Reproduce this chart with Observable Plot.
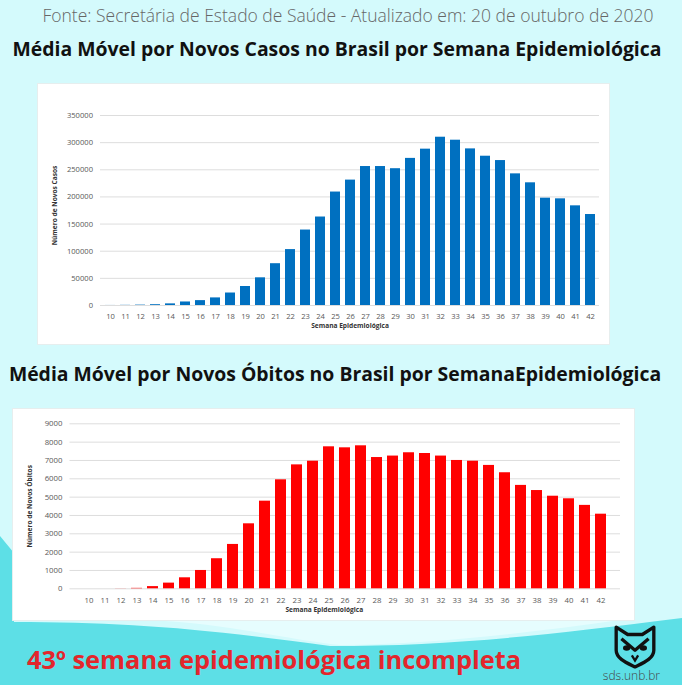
<!DOCTYPE html>
<html>
<head>
<meta charset="utf-8">
<script src="https://cdn.jsdelivr.net/npm/d3@7"></script>
<script src="https://cdn.jsdelivr.net/npm/@observablehq/plot@0.6"></script>
<style>
  html, body { margin: 0; padding: 0; }
  body { width: 682px; height: 685px; position: relative; overflow: hidden; background: #d4fafc; font-family: "Open Sans", sans-serif; }
  .abs { position: absolute; white-space: nowrap; }
  .panel { position: absolute; background: #ffffff; box-shadow: 0 0 0 1px #e6eeee; }
</style>
</head>
<body>
<script>
// ---- data ----
const semanas = [10, 11, 12, 13, 14, 15, 16, 17, 18, 19, 20, 21, 22, 23, 24, 25, 26, 27, 28, 29, 30, 31, 32, 33, 34, 35, 36, 37, 38, 39, 40, 41, 42];
const novosCasos = [100, 300, 700, 1500, 3000, 6500, 9000, 14000, 23000, 35000, 51000, 77000, 103000, 139000, 163000, 209000, 231000, 256000, 256000, 252000, 271000, 288000, 310000, 304500, 288500, 275000, 267000, 242500, 226000, 197700, 196500, 183600, 167600];
const novosObitos = [0, 0, 5, 25, 120, 310, 600, 1000, 1640, 2420, 3545, 4780, 5945, 6760, 6960, 7745, 7690, 7800, 7160, 7240, 7420, 7380, 7240, 7000, 6960, 6730, 6330, 5640, 5360, 5050, 4910, 4550, 4070];
const ticksCasos = [0, 50000, 100000, 150000, 200000, 250000, 300000, 350000];
const ticksObitos = [0, 1000, 2000, 3000, 4000, 5000, 6000, 7000, 8000, 9000];

const fonte = "Fonte: Secretária de Estado de Saúde - Atualizado em: 20 de outubro de 2020";
const titulo1 = "Média Móvel por Novos Casos no Brasil por Semana Epidemiológica";
const titulo2 = "Média Móvel por Novos Óbitos no Brasil por SemanaEpidemiológica";
const rotuloX = "Semana Epidemiológica";
const rotuloY1 = "Número de Novos Casos";
const rotuloY2 = "Número de Novos Óbitos";
const aviso = "43º semana epidemiológica incompleta";
const site = "sds.unb.br";

const rowsCasos = semanas.map((s, i) => ({semana: s, valor: novosCasos[i]}));
const rowsObitos = semanas.map((s, i) => ({semana: s, valor: novosObitos[i]}));

// ---- decorative background ----
const NS = "http://www.w3.org/2000/svg";
const bg = document.createElementNS(NS, "svg");
bg.setAttribute("width", 682); bg.setAttribute("height", 685);
bg.style.position = "absolute"; bg.style.left = "0"; bg.style.top = "0";
bg.innerHTML = `
  <path d="M0,536 L14,553 L14,622 C120,622 200,628 330,646 C450,646 540,636 682,618 L682,685 L0,685 Z" fill="#5ddfe6"/>
  <path d="M150,620 C230,624 290,640 340,645 C430,644 520,634 620,620 Z" fill="#e6fdfe"/>
`;
document.body.appendChild(bg);

function addText(txt, css) {
  const d = document.createElement("div");
  d.className = "abs";
  d.textContent = txt;
  Object.assign(d.style, css);
  document.body.appendChild(d);
  return d;
}

// Top texts
addText(fonte, {left: (348 - 400) + "px", top: "6.5px", width: "800px", textAlign: "center", lineHeight: "1", fontSize: "17.5px", fontWeight: "300", color: "#666"});
addText(titulo1, {left: (337 - 400) + "px", top: "38.8px", width: "800px", textAlign: "center", lineHeight: "1", fontSize: "19.4px", fontWeight: "700", color: "#111"});
addText(titulo2, {left: (335 - 400) + "px", top: "363.8px", width: "800px", textAlign: "center", lineHeight: "1", fontSize: "19.4px", fontWeight: "700", color: "#111"});
addText(aviso, {left: "27px", top: "647.4px", lineHeight: "1", fontSize: "25.4px", fontWeight: "700", color: "#e3262c"});
addText(site, {left: "560px", top: "670px", width: "100px", textAlign: "right", lineHeight: "1", fontSize: "12px", fontWeight: "300", color: "#444"});

// owl logo
const owl = document.createElementNS(NS, "svg");
owl.setAttribute("width", 46); owl.setAttribute("height", 46);
owl.setAttribute("viewBox", "0 0 44 44");
owl.style.position = "absolute"; owl.style.left = "612px"; owl.style.top = "623px";
owl.innerHTML = `
  <path d="M4,4 L15,11 L29,11 L40,4 L40,26 C40,34 30,38 22,42 C14,38 4,34 4,26 Z" fill="none" stroke="#111" stroke-width="3.2" stroke-linejoin="round"/>
  <path d="M9,15 L22,26 L35,15" fill="none" stroke="#111" stroke-width="3.2" stroke-linejoin="round"/>
  <ellipse cx="14" cy="24" rx="3.5" ry="2.6" fill="#111"/>
  <ellipse cx="30" cy="24" rx="3.5" ry="2.6" fill="#111"/>
  <path d="M19,31 L22,36 L25,31" fill="none" stroke="#111" stroke-width="2.2"/>
`;
document.body.appendChild(owl);

function panel(left, top, w, h) {
  const p = document.createElement("div");
  p.className = "panel";
  Object.assign(p.style, {left: left + "px", top: top + "px", width: w + "px", height: h + "px"});
  document.body.appendChild(p);
  return p;
}

// ---- chart 1 ----
const p1 = panel(38, 84, 571, 260);
const chart1 = Plot.plot({
  width: 571, height: 260,
  marginLeft: 62, marginRight: 10, marginTop: 31, marginBottom: 39,
  style: {fontFamily: "Open Sans", fontSize: "7.6px", color: "#595959", background: "transparent", overflow: "visible"},
  x: {type: "band", domain: semanas, paddingInner: 0.34, paddingOuter: 0.17, tickSize: 0, tickPadding: 8.3, label: null},
  y: {domain: [0, 350000], ticks: ticksCasos, tickSize: 0, tickPadding: 7.5, tickFormat: d3.format("d"), label: null},
  marks: [
    Plot.ruleY(ticksCasos, {stroke: "#d9d9d9", strokeWidth: 0.9}),
    Plot.barY(rowsCasos, {x: "semana", y: "valor", fill: "#0070c0"}),
    Plot.text([rotuloX], {frameAnchor: "bottom", dy: 22, fontWeight: "bold", fontSize: 6.6, fill: "#333"}),
    Plot.text([rotuloY1], {frameAnchor: "left", textAnchor: "middle", rotate: -90, dx: -46, dy: -5, fontWeight: "bold", fontSize: 6.6, fill: "#333"})
  ]
});
p1.appendChild(chart1);

// ---- chart 2 ----
const p2 = panel(13, 409, 621, 211);
const chart2 = Plot.plot({
  width: 621, height: 211,
  marginLeft: 56.5, marginRight: 14, marginTop: 14.3, marginBottom: 31.7,
  style: {fontFamily: "Open Sans", fontSize: "7.8px", color: "#595959", background: "transparent", overflow: "visible"},
  x: {type: "band", domain: semanas, paddingInner: 0.32, paddingOuter: 0.16, tickSize: 0, tickPadding: 9, label: null},
  y: {domain: [0, 9000], ticks: ticksObitos, tickSize: 0, tickPadding: 7.5, tickFormat: d3.format("d"), label: null},
  marks: [
    Plot.ruleY(ticksObitos, {stroke: "#d9d9d9", strokeWidth: 0.9}),
    Plot.barY(rowsObitos, {x: "semana", y: "valor", fill: "#ff0000"}),
    Plot.text([rotuloX], {frameAnchor: "bottom", dx: -21, dy: 22.7, fontWeight: "bold", fontSize: 6.6, fill: "#333"}),
    Plot.text([rotuloY2], {frameAnchor: "left", textAnchor: "middle", rotate: -90, dx: -40.5, fontWeight: "bold", fontSize: 6.6, fill: "#333"})
  ]
});
p2.appendChild(chart2);
</script>
</body>
</html>
